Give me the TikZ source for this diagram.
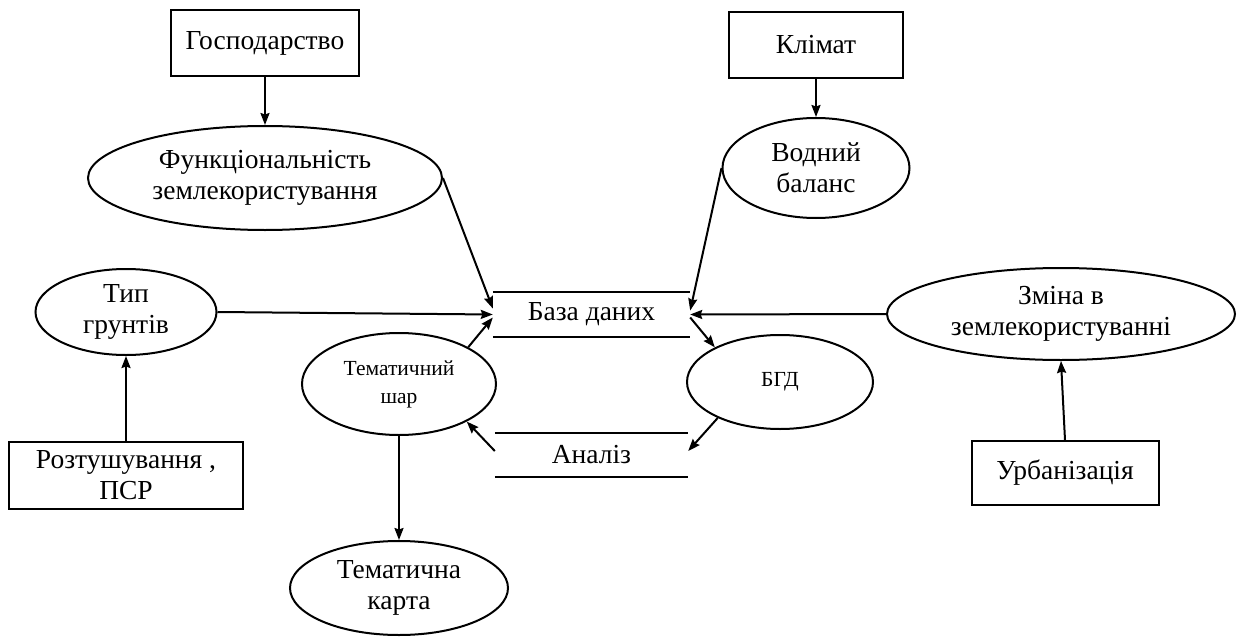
\documentclass[tikz,border=0pt]{standalone}
\usepackage{fontspec}
\setmainfont{Liberation Serif}
\usetikzlibrary{arrows.meta,shapes.geometric,calc}

\tikzset{
  base/.style={font=\fontsize{27.5}{31}\selectfont, align=center, inner sep=0pt},
  boxnode/.style={base, draw, rectangle, line width=2pt},
  ellnode/.style={base, draw, ellipse, line width=2pt},
  smallell/.style={ellnode, font=\fontsize{21.5}{28}\selectfont},
  store/.style={base, rectangle},
  link/.style={line width=2pt, -{Stealth[length=12pt,width=9pt,inset=1.5pt]}},
  rule/.style={line width=2pt}
}

\begin{document}
\begin{tikzpicture}[x=1pt,y=-1pt]
\useasboundingbox (0,0) rectangle (1243,637);

% external sources (rectangles)
\node[boxnode, minimum width=188pt, minimum height=66pt] (gosp) at (265,43) {Господарство};
\node[boxnode, minimum width=174pt, minimum height=66pt] (klim) at (816,45) {Клімат};
\node[boxnode, minimum width=234pt, minimum height=67pt] (rozt) at (126,475) {Розтушування ,\\ПСР};
\node[boxnode, minimum width=187pt, minimum height=64pt] (urb) at (1065,473) {Урбанізація};

% processes (ellipses)
\node[ellnode, minimum width=354pt, minimum height=104pt] (func) at (265,178) {Функціональність\\землекористування};
\node[ellnode, minimum width=187pt, minimum height=100pt] (vod) at (816,168) {Водний\\баланс};
\node[ellnode, minimum width=181pt, minimum height=86pt] (tip) at (126,312) {Тип\\грунтів};
\node[ellnode, minimum width=348pt, minimum height=92pt] (zmina) at (1061,314) {Зміна в\\землекористуванні};
\node[smallell, minimum width=194pt, minimum height=102pt] (tsh) at (399,384) {Тематичний\\шар};
\node[smallell, minimum width=186pt, minimum height=94pt] (bgd) at (780,382) {БГД};
\node[ellnode, minimum width=218pt, minimum height=94pt] (tkarta) at (399,588) {Тематична\\карта};

% data stores (open-ended bars)
\node[store, minimum width=197pt, minimum height=45pt] (db) at (591.5,314.5) {База даних};
\draw[rule] (db.north west) -- (db.north east);
\draw[rule] (db.south west) -- (db.south east);
\node[store, minimum width=193pt, minimum height=44pt] (an) at (591.5,455) {Аналіз};
\draw[rule] (an.north west) -- (an.north east);
\draw[rule] (an.south west) -- (an.south east);

% flows
\draw[link] (gosp.south) -- (func.north);
\draw[link] (klim.south) -- (vod.north);
\draw[link] (func.east) -- ([yshift=6pt]db.west);
\draw[link] (tip.east) -- (db.west);
\draw[link] (tsh.28) -- ([yshift=-3pt]db.west);
\draw[link] (vod.west) -- ([yshift=4pt]db.east);
\draw[link] (zmina.west) -- (db.east);
\draw[link] ([yshift=-3pt]db.east) -- (bgd.152);
\draw[link] (bgd.210) -- ([yshift=4pt]an.east);
\draw[link] ([yshift=4pt]an.west) -- (tsh.-29);
\draw[link] (tsh.south) -- (tkarta.north);
\draw[link] (rozt.north) -- (tip.south);
\draw[link] (urb.north) -- (zmina.south);
\end{tikzpicture}
\end{document}
